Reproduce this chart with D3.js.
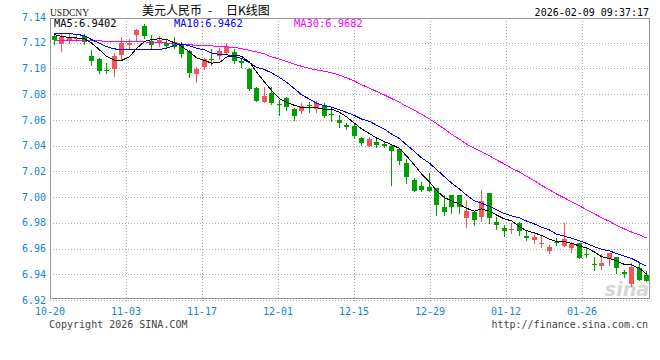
<!DOCTYPE html>
<html><head><meta charset="utf-8">
<script src="https://cdn.jsdelivr.net/npm/d3@7/dist/d3.min.js"></script>
<style>body{margin:0;background:#fff}svg{display:block}</style>
</head><body><svg id="c" width="660" height="360"></svg>
<script>
// ---- data ----
const open = [7.1252,7.1193,7.1221,7.1234,7.1252,7.1099,7.1074,7.0991,7.0992,7.1105,
7.1182,7.1258,7.1328,7.1217,7.1206,7.1200,7.1208,7.1186,7.1136,7.0955,
7.1009,7.1074,7.1097,7.1123,7.1130,7.1058,7.0994,7.0846,7.0742,7.0810,
7.0720,7.0768,7.0684,7.0670,7.0719,7.0685,7.0716,7.0649,7.0597,7.0561,
7.0553,7.0462,7.0399,7.0426,7.0411,7.0399,7.0374,7.0266,7.0134,7.0087,
7.0079,7.0071,6.9924,7.0017,7.0013,6.9841,6.9887,6.9848,7.0032,6.9810,
6.9761,6.9749,6.9797,6.9698,6.9667,6.9634,6.9584,6.9652,6.9621,6.9603,
6.9642,6.9559,6.9483,6.9461,6.9517,6.9538,6.9416,6.9328,6.9447,6.9395];
const high = [7.1268,7.1276,7.1278,7.1260,7.1268,7.1146,7.1081,7.1043,7.1120,7.1245,
7.1227,7.1307,7.1346,7.1260,7.1252,7.1221,7.1245,7.1206,7.1144,7.1014,
7.1079,7.1148,7.1157,7.1200,7.1149,7.1079,7.1001,7.0856,7.0856,7.0854,
7.0755,7.0781,7.0695,7.0729,7.0740,7.0745,7.0732,7.0693,7.0639,7.0574,
7.0566,7.0470,7.0470,7.0464,7.0431,7.0405,7.0374,7.0294,7.0147,7.0118,
7.0188,7.0074,7.0017,7.0017,7.0017,6.9978,6.9887,7.0056,7.0032,6.9848,
6.9786,6.9797,6.9810,6.9745,6.9719,6.9698,6.9628,6.9680,6.9797,6.9654,
6.9644,6.9603,6.9538,6.9559,6.9569,6.9538,6.9434,6.9486,6.9499,6.9423];
const low = [7.1190,7.1138,7.1198,7.1214,7.1190,7.1029,7.0965,7.0967,7.0945,7.1068,
7.1149,7.1221,7.1237,7.1159,7.1175,7.1159,7.1159,7.1092,7.0930,7.0897,
7.0994,7.1027,7.1071,7.1118,7.1043,7.1009,7.0833,7.0747,7.0742,7.0724,
7.0639,7.0674,7.0600,7.0652,7.0664,7.0658,7.0623,7.0592,7.0548,7.0530,
7.0456,7.0405,7.0398,7.0390,7.0392,7.0095,7.0256,7.0110,7.0050,7.0050,
7.0050,6.9864,6.9862,6.9875,6.9875,6.9771,6.9784,6.9815,6.9802,6.9753,
6.9698,6.9722,6.9706,6.9667,6.9644,6.9615,6.9569,6.9628,6.9621,6.9576,
6.9528,6.9538,6.9434,6.9442,6.9473,6.9411,6.9380,6.9310,6.9357,6.9344];
const close = [7.1221,7.1242,7.1245,7.1237,7.1208,7.1056,7.0978,7.0986,7.1097,7.1194,
7.1200,7.1301,7.1252,7.1179,7.1221,7.1177,7.1167,7.1113,7.0963,7.0994,
7.1071,7.1066,7.1136,7.1175,7.1060,7.1040,7.0837,7.0750,7.0786,7.0734,
7.0716,7.0697,7.0632,7.0705,7.0714,7.0729,7.0632,7.0644,7.0574,7.0543,
7.0475,7.0423,7.0452,7.0405,7.0400,7.0359,7.0277,7.0159,7.0050,7.0056,
7.0050,6.9937,6.9885,6.9926,6.9926,6.9892,6.9825,6.9970,6.9836,6.9782,
6.9737,6.9753,6.9737,6.9685,6.9693,6.9642,6.9612,6.9642,6.9674,6.9637,
6.9530,6.9548,6.9475,6.9491,6.9566,6.9446,6.9403,6.9458,6.9357,6.9346];
// moving-average values before their window is complete
const ma5Head = [7.1264,7.1248,7.1241,7.1237];
const ma10Head = [7.1268,7.1270,7.1270,7.1265,7.1255,7.1225,7.1195,7.1170,7.1152];
const ma30Head = [7.1216,7.1216,7.1216,7.1216,7.1215,7.1214,7.1214,7.1212,7.1211,7.1210,
7.1208,7.1206,7.1206,7.1204,7.1202,7.1198,7.1193,7.1189,7.1184,7.1180,
7.1177,7.1175,7.1172,7.1168,7.1163,7.1154,7.1141,7.1128,7.1113];
const yTicks = [7.14,7.12,7.10,7.08,7.06,7.04,7.02,7.00,6.98,6.96,6.94,6.92];
const tickLabels = ["10-20","11-03","11-17","12-01","12-15","12-29","01-12","01-26"];
const symbol = "USDCNY";
const titleParts = ["美元人民币","-","日K线图"];
const stamp = "2026-02-09 09:37:17";

// ---- drawing ----
const svg = d3.select("#c");
const mono = "'DejaVu Sans Mono', 'Liberation Mono', monospace";
const blue = "#1583d3", up = "#f65555", down = "#009f00";

const x = d3.scaleBand().domain(d3.range(close.length)).range([50, 650]);
const y = d3.scaleLinear().domain([6.92, 7.14]).range([300, 17]);
const grid = d3.scaleLinear().domain([0, 8]).range([50, 658]);
const cx = i => Math.round(x(i) + x.bandwidth() / 2);
const py = v => Math.round(y(v));

function movingAvg(n, head) {
  return close.map((c, i) => i < n - 1 ? head[i] : d3.mean(close.slice(i - n + 1, i + 1)));
}
const ma5 = movingAvg(5, ma5Head), ma10 = movingAvg(10, ma10Head), ma30 = movingAvg(30, ma30Head);

// watermark
svg.append("text").attr("x", 649).attr("y", 296).attr("text-anchor", "end")
  .attr("font-family", "'DejaVu Sans', sans-serif").attr("font-weight", "bold").attr("font-style", "italic")
  .attr("font-size", 19).attr("fill", "#d6d6d6").text("sina");

// horizontal gridlines
svg.append("g").selectAll("line").data(yTicks.filter(v => v < 7.13)).join("line")
  .attr("x1", 50).attr("x2", 650)
  .attr("y1", d => py(d) + 0.5).attr("y2", d => py(d) + 0.5)
  .attr("stroke", "#aaa").attr("stroke-dasharray", "1,2").attr("shape-rendering", "crispEdges");
// vertical gridlines
svg.append("g").selectAll("line").data(d3.range(1, tickLabels.length)).join("line")
  .attr("x1", d => Math.round(grid(d)) + 0.5).attr("x2", d => Math.round(grid(d)) + 0.5)
  .attr("y1", 18).attr("y2", 301)
  .attr("stroke", "#aaa").attr("stroke-dasharray", "1,2").attr("shape-rendering", "crispEdges");

// frame
svg.append("rect").attr("x", 50.5).attr("y", 18.5).attr("width", 599).attr("height", 280)
  .attr("fill", "none").attr("stroke", "#999").attr("shape-rendering", "crispEdges");

// y labels
svg.append("g").selectAll("text").data(yTicks).join("text")
  .attr("x", 46).attr("y", d => y(d)).attr("dy", "0.36em").attr("text-anchor", "end")
  .attr("font-family", mono).attr("font-size", 10).attr("fill", blue)
  .text(d => d.toFixed(2));
// x labels
svg.append("g").selectAll("text").data(tickLabels).join("text")
  .attr("x", (d, i) => grid(i)).attr("y", 315).attr("text-anchor", "middle")
  .attr("font-family", mono).attr("font-size", 10).attr("fill", blue)
  .text(d => d);

// candles
const cg = svg.append("g").attr("shape-rendering", "crispEdges");
const idx = d3.range(close.length);
cg.selectAll("line").data(idx).join("line")
  .attr("x1", i => cx(i) + 0.5).attr("x2", i => cx(i) + 0.5)
  .attr("y1", i => py(high[i])).attr("y2", i => py(low[i]) + 1)
  .attr("stroke", i => close[i] >= open[i] ? up : down);
cg.selectAll("rect").data(idx).join("rect")
  .attr("x", i => cx(i) - 2).attr("width", 5)
  .attr("y", i => py(Math.max(open[i], close[i])))
  .attr("height", i => Math.max(1, py(Math.min(open[i], close[i])) - py(Math.max(open[i], close[i]))))
  .attr("fill", i => close[i] >= open[i] ? up : down);

// moving averages
const line = d3.line().x((d, i) => cx(i) + 0.5).y(d => y(d));
[[ma30, "#ff00ff"], [ma10, "#0000ff"], [ma5, "#000000"]].forEach(([s, col]) => {
  svg.append("path").attr("d", line(s)).attr("fill", "none").attr("stroke", col)
    .attr("stroke-width", 1).attr("shape-rendering", "crispEdges");
});

// legend
const legend = [["MA5:" + ma5[ma5.length - 1].toFixed(4), "#000", 54],
                ["MA10:" + ma10[ma10.length - 1].toFixed(4), "#0000ff", 174],
                ["MA30:" + ma30[ma30.length - 1].toFixed(4), "#ff00ff", 294]];
svg.append("g").selectAll("text").data(legend).join("text")
  .attr("x", d => d[2]).attr("y", 27).attr("font-family", mono).attr("font-size", 10.4)
  .attr("fill", d => d[1]).text(d => d[0]);

// header
svg.append("text").attr("x", 50).attr("y", 15.5).attr("font-family", "'Liberation Serif', serif")
  .attr("font-size", 9.5).attr("fill", "#222").text(symbol);
const tx = [142, 208, 226];
svg.append("g").selectAll("text").data(titleParts).join("text")
  .attr("x", (d, i) => tx[i]).attr("y", 14.5).attr("font-family", "'Noto Sans CJK SC', sans-serif")
  .attr("font-size", 12).attr("fill", "#000").text(d => d);
svg.append("text").attr("x", 649).attr("y", 15.5).attr("text-anchor", "end")
  .attr("font-family", mono).attr("font-size", 10).attr("fill", "#000").text(stamp);

// footer
svg.append("text").attr("x", 49).attr("y", 328).attr("font-family", mono).attr("font-size", 10)
  .attr("fill", "#444").text("Copyright 2026 SINA.COM");
svg.append("text").attr("x", 648).attr("y", 328).attr("text-anchor", "end").attr("font-family", mono)
  .attr("font-size", 10).attr("fill", "#444").text("http://finance.sina.com.cn");
</script></body></html>
